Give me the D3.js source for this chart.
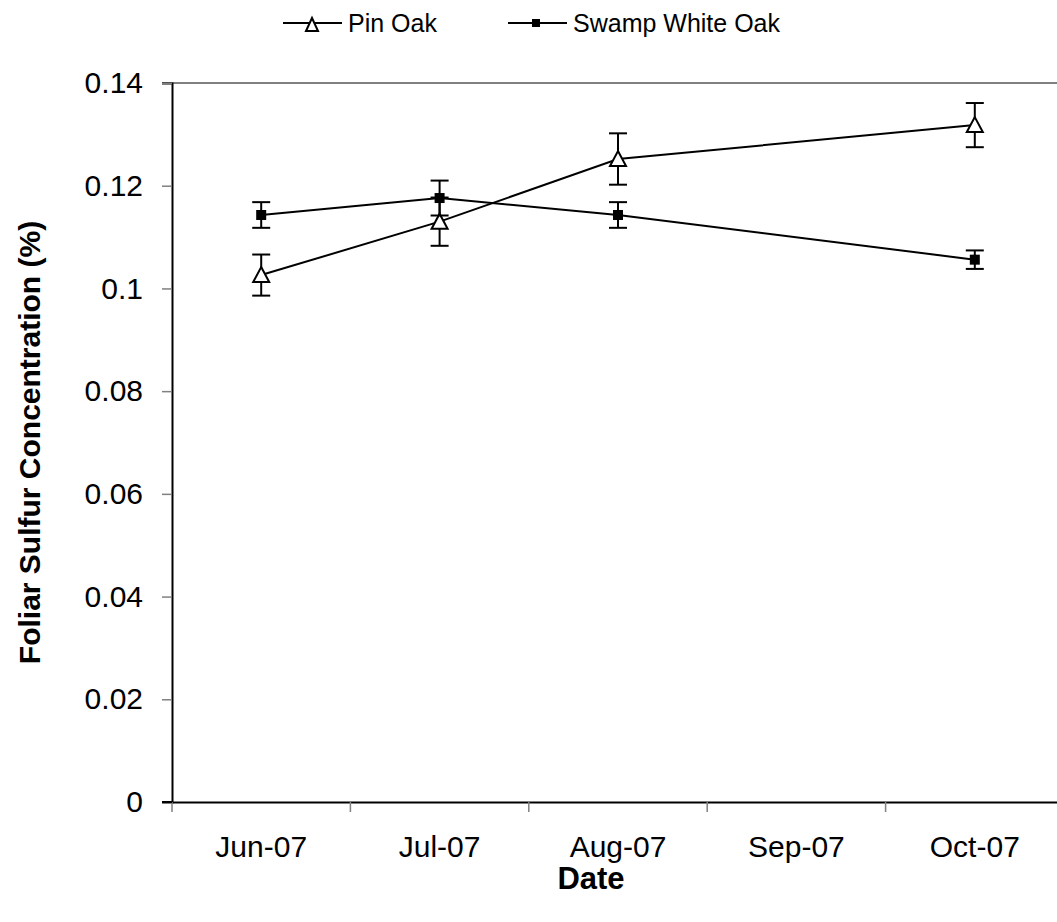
<!DOCTYPE html>
<html>
<head>
  <meta charset="utf-8">
  <title>Foliar Sulfur Concentration</title>
  <script src="https://d3js.org/d3.v7.min.js"></script>
  <style>
    body { margin: 0; background: #fff; }
    text { font-family: "Liberation Sans", Arial, sans-serif; fill: #000; }
    .tick text { font-size: 30px; }
  </style>
</head>
<body>
  <svg width="1057" height="922"></svg>
  <script>
    // Month categories on the x axis (Sep-07 has no data)
    const months = ["Jun-07", "Jul-07", "Aug-07", "Sep-07", "Oct-07"];
    const yTicks = [0, 0.02, 0.04, 0.06, 0.08, 0.1, 0.12, 0.14];

    // Values, with the error bar half-widths
    const pinOakMonths = ["Jun-07", "Jul-07", "Aug-07", "Oct-07"];
    const pinOakValues = [0.1026, 0.1130, 0.1252, 0.1318];
    const pinOakErrors = [0.0040, 0.0047, 0.0050, 0.0043];

    const swampMonths = ["Jun-07", "Jul-07", "Aug-07", "Oct-07"];
    const swampValues = [0.1143, 0.1176, 0.1143, 0.1056];
    const swampErrors = [0.0025, 0.0034, 0.0025, 0.0018];

    const series = [
      { name: "Pin Oak", marker: "triangle",
        points: pinOakMonths.map((m, i) => ({ m, v: pinOakValues[i], e: pinOakErrors[i] })) },
      { name: "Swamp White Oak", marker: "square",
        points: swampMonths.map((m, i) => ({ m, v: swampValues[i], e: swampErrors[i] })) }
    ];

    const svg = d3.select("svg");
    const plotLeft = 172, plotRight = 1064, plotTop = 83, plotBottom = 802;

    const x = d3.scaleBand().domain(months).range([plotLeft, plotRight]);
    const y = d3.scaleLinear().domain([0, 0.14]).range([plotBottom, plotTop]);
    const cx = m => x(m) + x.bandwidth() / 2;

    // top border of the plot area
    svg.append("line")
      .attr("x1", plotLeft - 10).attr("x2", plotRight)
      .attr("y1", plotTop).attr("y2", plotTop)
      .attr("stroke", "#808080").attr("stroke-width", 2);

    // y axis
    const yAxis = svg.append("g")
      .attr("transform", `translate(${plotLeft},0)`)
      .call(d3.axisLeft(y).tickValues(yTicks).tickSize(10).tickPadding(19)
        .tickFormat(d => d === 0 ? "0" : String(+d.toFixed(2))));
    yAxis.select(".domain").attr("stroke", "#000").attr("stroke-width", 2);
    yAxis.selectAll(".tick line").attr("stroke", "#808080").attr("stroke-width", 1.5);

    // x axis, ticks between the months
    const xAxis = svg.append("g")
      .attr("transform", `translate(0,${plotBottom})`)
      .call(d3.axisBottom(x).tickSize(0));
    xAxis.select(".domain").attr("stroke", "#000").attr("stroke-width", 2);
    xAxis.selectAll(".tick text").attr("y", 55).attr("dy", 0);
    xAxis.selectAll("line.sep")
      .data(months)
      .enter().append("line")
      .attr("class", "sep")
      .attr("x1", d => x(d)).attr("x2", d => x(d))
      .attr("y1", 0).attr("y2", 10)
      .attr("stroke", "#808080").attr("stroke-width", 1.5);
    // short left extension of the x axis
    svg.append("line")
      .attr("x1", plotLeft - 10).attr("x2", plotLeft)
      .attr("y1", plotBottom).attr("y2", plotBottom)
      .attr("stroke", "#000").attr("stroke-width", 2);

    // axis titles
    svg.append("text")
      .attr("transform", `translate(40,${(plotTop + plotBottom) / 2}) rotate(-90)`)
      .attr("text-anchor", "middle")
      .attr("font-size", 30).attr("font-weight", "bold")
      .text("Foliar Sulfur Concentration (%)");
    svg.append("text")
      .attr("x", 591).attr("y", 889)
      .attr("text-anchor", "middle")
      .attr("font-size", 31).attr("font-weight", "bold")
      .text("Date");

    const line = d3.line().x(d => cx(d.m)).y(d => y(d.v));

    function drawMarker(g, type, px, py, small) {
      if (type === "triangle") {
        const w = small ? 6 : 8, t = small ? 5 : 8, b = small ? 8 : 7;
        g.append("path")
          .attr("d", `M${px},${py - t}L${px + w},${py + b}L${px - w},${py + b}Z`)
          .attr("fill", "#fff").attr("stroke", "#000").attr("stroke-width", 2);
      } else {
        const h = small ? 4 : 5;
        g.append("rect")
          .attr("x", px - h).attr("y", py - h)
          .attr("width", 2 * h).attr("height", 2 * h)
          .attr("fill", "#000");
      }
    }

    series.forEach(s => {
      const g = svg.append("g");
      // error bars
      s.points.forEach(p => {
        const px = cx(p.m);
        g.append("line")
          .attr("x1", px).attr("x2", px)
          .attr("y1", y(p.v + p.e)).attr("y2", y(p.v - p.e))
          .attr("stroke", "#000").attr("stroke-width", 2);
        [p.v + p.e, p.v - p.e].forEach(v => {
          g.append("line")
            .attr("x1", px - 9).attr("x2", px + 9)
            .attr("y1", y(v)).attr("y2", y(v))
            .attr("stroke", "#000").attr("stroke-width", 2);
        });
      });
      g.append("path")
        .datum(s.points)
        .attr("d", line)
        .attr("fill", "none").attr("stroke", "#000").attr("stroke-width", 2);
      s.points.forEach(p => drawMarker(g, s.marker, cx(p.m), y(p.v), false));
    });

    // legend
    const legendX = [283, 508];
    series.forEach((s, i) => {
      const g = svg.append("g").attr("transform", `translate(${legendX[i]},23)`);
      g.append("line")
        .attr("x1", 0).attr("x2", 59).attr("y1", 0).attr("y2", 0)
        .attr("stroke", "#000").attr("stroke-width", 2);
      drawMarker(g, s.marker, i === 0 ? 29 : 28, 0, true);
      g.append("text")
        .attr("x", 65).attr("y", 0).attr("dy", "0.35em")
        .attr("font-size", 25)
        .text(s.name);
    });
  </script>
</body>
</html>
